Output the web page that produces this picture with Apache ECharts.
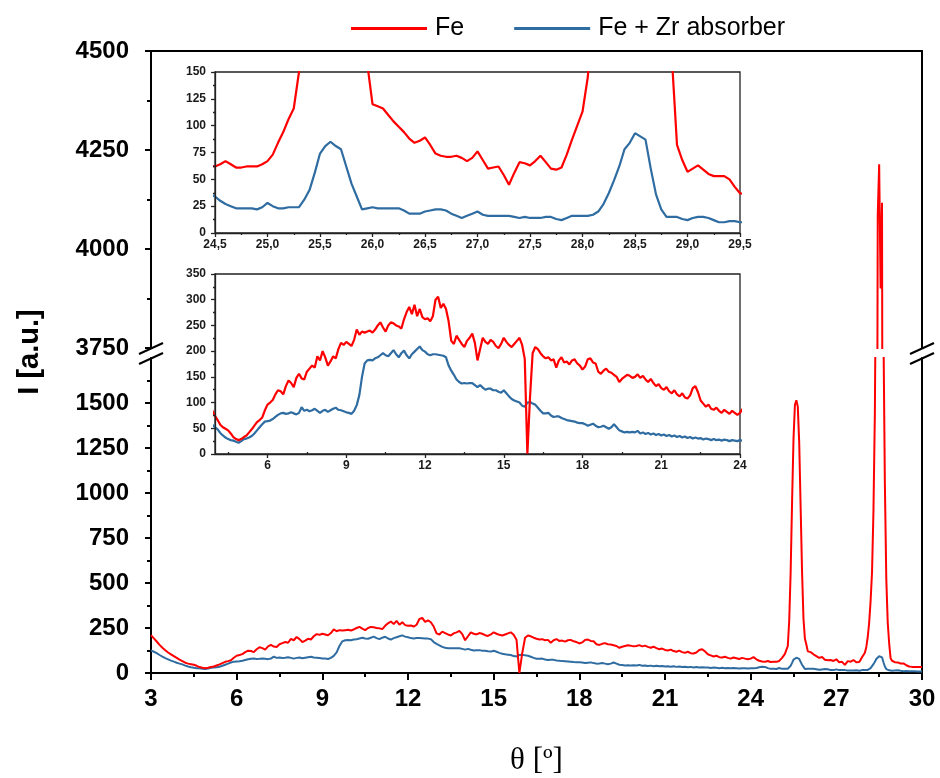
<!DOCTYPE html>
<html>
<head>
<meta charset="utf-8">
<script src="https://cdn.jsdelivr.net/npm/echarts@6/dist/echarts.min.js"></script>
<style>
  html, body { margin: 0; padding: 0; background: #fff; }
  #chart { width: 940px; height: 778px; }
</style>
</head>
<body>
<div id="chart"></div>
<script>
// Scan A: 3.0° – 24.4°, 0.1° steps
const scanAStart = 3.0;
const scanAStep = 0.1;
const feA = [
  210,192,175,156,140,126,114,104,94,84,
  74,66,57,52,49,46,40,33,29,27,
  29,33,36,42,48,55,62,66,71,85,
  96,100,105,116,124,122,116,132,143,138,
  130,148,156,147,145,160,166,172,168,190,
  182,200,188,172,180,190,186,204,216,212,
  218,214,210,222,242,232,238,236,238,240,
  236,242,250,256,246,238,250,256,254,250,
  248,244,262,276,286,272,290,268,282,266,
  262,264,258,268,300,306,284,292,282,258,
  220,214,230,222,214,208,220,226,234,216,
  182,204,226,218,214,222,218,210,206,214,
  226,218,212,208,214,220,226,212,185,0,
  110,196,208,204,196,190,186,188,182,184,
  168,182,188,178,180,174,182,184,176,172,
  164,170,184,186,178,176,160,156,162,166,
  160,158,154,150,140,146,150,154,152,148,
  150,155,148,152,145,140,146,138,132,136,
  128,125,130,122,118,124,116,112,118,110,
  108,114,128,132,120,104,98,92,96,88,
  86,90,84,80,86,82,78,84,80,76,
  80,88,76,68,64
];
const zrA = [
  126,118,110,100,91,83,76,69,63,57,
  52,48,41,36,32,29,27,26,24,22,
  25,29,30,32,35,40,46,52,58,63,
  64,65,68,72,76,79,80,78,79,81,
  79,77,80,91,84,86,83,85,88,84,
  80,84,86,82,85,88,90,86,85,83,
  81,80,78,84,95,115,150,176,182,183,
  182,186,188,192,196,192,190,196,202,194,
  188,196,201,192,186,194,199,204,209,202,
  199,194,192,194,194,193,192,191,188,172,
  162,154,145,140,137,138,137,138,138,134,
  130,134,129,125,127,127,124,124,121,119,
  124,118,112,107,104,102,100,94,92,100,
  101,98,96,90,84,79,79,80,75,72,
  73,73,70,68,66,65,64,63,61,60,
  60,58,55,57,59,55,52,53,55,52,
  49,52,58,52,46,44,42,43,42,43,
  42,45,40,42,39,41,38,40,37,39,
  36,38,35,37,34,36,33,35,32,34,
  31,33,30,32,30,31,28,30,29,27,
  29,27,28,26,28,27,25,27,26,25,
  27,26,28,32,35
];

// Scan B: 24.45° – 30.0°, 0.05° steps
const scanBStart = 24.45;
const scanBStep = 0.05;
const feB = [
  63,62,64,67,64,61,61,62,62,62,
  64,67,73,84,94,106,116,150,290,560,
  950,1300,1490,1515,1480,1280,920,560,300,190,
  158,120,118,116,110,104,99,94,88,84,
  86,89,82,74,72,71,71,72,70,67,
  70,76,68,60,61,62,54,45,56,66,
  65,63,67,72,66,60,59,61,73,87,
  100,113,145,200,280,400,560,900,1450,2600,
  4085,4214,3900,4117,1900,1050,520,280,165,82,
  68,57,60,63,59,55,53,53,53,50,
  43,37,36,35,34,35,34,35,34,33,
  33,33
];
const zrB = [
  36,34,30,27,25,23,23,23,23,22,
  24,28,25,23,23,24,24,24,31,40,
  56,74,81,85,81,78,62,46,34,22,
  23,24,23,23,23,23,23,21,18,18,
  18,20,21,22,22,21,18,16,14,16,
  18,20,17,16,16,16,16,16,15,14,
  15,14,14,14,15,15,13,12,14,16,
  16,16,16,17,20,27,37,49,62,78,
  84,93,90,87,60,36,22,15,15,15,
  13,12,14,15,15,14,12,10,10,11,
  11,10,10,10,10,9,10,9,9,9,
  9,9
];

// Tick positions
const lowerYTicks = [0, 250, 500, 750, 1000, 1250, 1500];
const insetBXTicks = [6, 9, 12, 15, 18, 21, 24];
const insetBXMinor = [4.5, 7.5, 10.5, 13.5, 16.5, 19.5, 22.5];

const seriesNames = ['Fe', 'Fe + Zr absorber'];
const RED = '#ff0000';
const BLUE = '#2f6ca1';

function toPairs(start, step, vals) {
  return vals.map((v, i) => [+(start + i * step).toFixed(2), v]);
}
const feData = toPairs(scanAStart, scanAStep, feA).concat(toPairs(scanBStart, scanBStep, feB));
const zrData = toPairs(scanAStart, scanAStep, zrA).concat(toPairs(scanBStart, scanBStep, zrB));

const SANS = '"Liberation Sans", Arial, sans-serif';
const plain = v => String(v);
const mainLabel = { fontFamily: SANS, fontWeight: 'bold', fontSize: 24, color: '#000', formatter: plain };
const insetLabel = { fontFamily: SANS, fontWeight: 'bold', fontSize: 12, color: '#1a1a1a', formatter: plain };
const thickLine = { color: '#000', width: 2 };
const insetLine = { color: '#222', width: 1.3 };

function lineSeries(name, data, xi, yi, width, z) {
  const c = name === 'Fe' ? RED : BLUE;
  return {
    type: 'line', name: name, data: data,
    xAxisIndex: xi, yAxisIndex: yi,
    showSymbol: false, symbol: 'none', clip: true,
    color: c,
    lineStyle: { width: width, color: c },
    z: z + (name === 'Fe' ? 1 : 0),
    animation: false
  };
}

const chart = echarts.init(document.getElementById('chart'), null, { renderer: 'canvas' });

const option = {
  animation: false,
  backgroundColor: '#fff',
  legend: {
    data: seriesNames,
    left: 346, top: 11,
    icon: 'rect', itemWidth: 76, itemHeight: 3, itemGap: 50,
    textStyle: { fontFamily: SANS, fontSize: 25, color: '#000', padding: [0, 0, 0, 3] },
    selectedMode: false
  },
  grid: [
    { left: 151, top: 51, width: 771, height: 297 },
    { left: 151, top: 358, width: 771, height: 315 },
    { left: 215, top: 72, width: 525, height: 161, show: true, backgroundColor: '#fff', borderColor: '#222', borderWidth: 1.3, z: 3 },
    { left: 215, top: 274, width: 525, height: 180, show: true, backgroundColor: '#fff', borderColor: '#222', borderWidth: 1.3, z: 3 }
  ],
  xAxis: [
    { gridIndex: 0, type: 'value', min: 3, max: 30, position: 'top',
      axisLine: { show: true, lineStyle: thickLine }, axisTick: { show: false },
      axisLabel: { show: false }, splitLine: { show: false } },
    { gridIndex: 1, type: 'value', min: 3, max: 30, interval: 3, position: 'bottom',
      axisLine: { show: true, onZero: false, lineStyle: thickLine },
      axisTick: { show: true, length: 7, lineStyle: thickLine },
      minorTick: { show: true, splitNumber: 2, length: 4, lineStyle: thickLine },
      axisLabel: Object.assign({}, mainLabel, { margin: 14 }),
      splitLine: { show: false },
      name: 'θ [º]', nameLocation: 'middle', nameGap: 72,
      nameTextStyle: { fontFamily: '"Liberation Serif", "Times New Roman", serif', fontSize: 31, color: '#000' } },
    { gridIndex: 2, type: 'value', min: 24.5, max: 29.5, interval: 0.5, z: 8,
      axisLine: { show: true, onZero: false, lineStyle: insetLine },
      axisTick: { show: true, length: 4, lineStyle: insetLine },
      minorTick: { show: true, splitNumber: 2, length: 2, lineStyle: insetLine },
      axisLabel: Object.assign({}, insetLabel, { margin: 6, formatter: v => v.toFixed(1).replace('.', ',') }),
      splitLine: { show: false } },
    { gridIndex: 3, type: 'value', min: 4, max: 24, z: 8,
      axisLine: { show: true, onZero: false, lineStyle: insetLine },
      axisTick: { show: true, length: 4, customValues: insetBXTicks, lineStyle: insetLine },
      axisLabel: Object.assign({}, insetLabel, { margin: 6, customValues: insetBXTicks }),
      splitLine: { show: false } },
    { gridIndex: 3, type: 'value', min: 4, max: 24, z: 8,
      axisLine: { show: false },
      axisTick: { show: true, length: 2, customValues: insetBXMinor, lineStyle: insetLine },
      axisLabel: { show: false }, splitLine: { show: false } }
  ],
  yAxis: [
    { gridIndex: 0, type: 'value', min: 3750, max: 4500, interval: 250,
      axisLine: { show: true, lineStyle: thickLine },
      axisTick: { show: true, length: 6, lineStyle: thickLine },
      minorTick: { show: true, splitNumber: 2, length: 4, lineStyle: thickLine },
      axisLabel: Object.assign({}, mainLabel, { margin: 22 }),
      splitLine: { show: false } },
    { gridIndex: 0, type: 'value', min: 3750, max: 4500, position: 'right',
      axisLine: { show: true, lineStyle: thickLine }, axisTick: { show: false },
      axisLabel: { show: false }, splitLine: { show: false } },
    { gridIndex: 1, type: 'value', min: 0, max: 1750, interval: 250,
      axisLine: { show: true, lineStyle: thickLine },
      axisTick: { show: true, length: 6, customValues: lowerYTicks, lineStyle: thickLine },
      minorTick: { show: true, splitNumber: 2, length: 4, lineStyle: thickLine },
      axisLabel: Object.assign({}, mainLabel, { margin: 22, customValues: lowerYTicks }),
      splitLine: { show: false } },
    { gridIndex: 1, type: 'value', min: 0, max: 1750, position: 'right',
      axisLine: { show: true, lineStyle: thickLine }, axisTick: { show: false },
      axisLabel: { show: false }, splitLine: { show: false } },
    { gridIndex: 2, type: 'value', min: 0, max: 150, interval: 25, z: 8,
      axisLine: { show: true, lineStyle: insetLine },
      axisTick: { show: true, length: 4, lineStyle: insetLine },
      minorTick: { show: true, splitNumber: 2, length: 2, lineStyle: insetLine },
      axisLabel: Object.assign({}, insetLabel, { margin: 9 }),
      splitLine: { show: false } },
    { gridIndex: 3, type: 'value', min: 0, max: 350, interval: 50, z: 8,
      axisLine: { show: true, lineStyle: insetLine },
      axisTick: { show: true, length: 4, lineStyle: insetLine },
      minorTick: { show: true, splitNumber: 2, length: 2, lineStyle: insetLine },
      axisLabel: Object.assign({}, insetLabel, { margin: 9 }),
      splitLine: { show: false } }
  ],
  series: [
    lineSeries('Fe + Zr absorber', zrData, 0, 0, 2, 2),
    lineSeries('Fe', feData, 0, 0, 2, 2),
    lineSeries('Fe + Zr absorber', zrData, 1, 2, 2, 2),
    lineSeries('Fe', feData, 1, 2, 2, 2),
    lineSeries('Fe + Zr absorber', zrData, 2, 4, 2.2, 6),
    lineSeries('Fe', feData, 2, 4, 2.2, 6),
    lineSeries('Fe + Zr absorber', zrData, 3, 5, 2.2, 6),
    lineSeries('Fe', feData, 3, 5, 2.2, 6)
  ],
  graphic: [
    { type: 'text', x: 30, y: 352, rotation: Math.PI / 2,
      style: { text: 'I [a.u.]', fontFamily: SANS, fontWeight: 'bold', fontSize: 29, fill: '#000',
               align: 'center', verticalAlign: 'middle' } },
    // axis break marks, left and right
    { type: 'line', shape: { x1: 139, y1: 354, x2: 163, y2: 343 }, style: { stroke: '#000', lineWidth: 2 } },
    { type: 'line', shape: { x1: 139, y1: 364, x2: 163, y2: 353 }, style: { stroke: '#000', lineWidth: 2 } },
    { type: 'line', shape: { x1: 910, y1: 354, x2: 934, y2: 343 }, style: { stroke: '#000', lineWidth: 2 } },
    { type: 'line', shape: { x1: 910, y1: 364, x2: 934, y2: 353 }, style: { stroke: '#000', lineWidth: 2 } }
  ]
};

chart.setOption(option);
</script>
</body>
</html>
